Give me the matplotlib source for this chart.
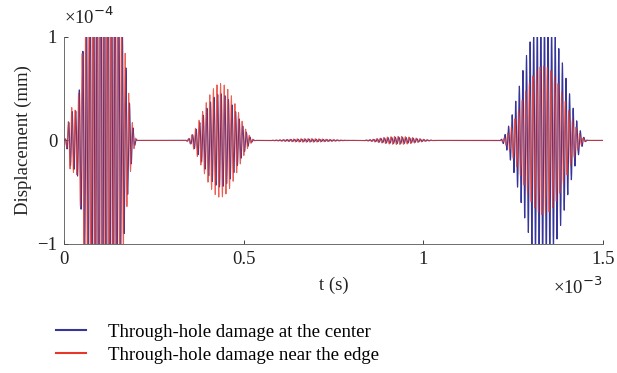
import numpy as np
import matplotlib.pyplot as plt

plt.rcParams['font.family'] = 'Liberation Serif'

# wave packets: centre (ms), width (ms), amplitude (x1e-4)
centres = [0.02, 0.11, 0.435, 0.68, 0.93, 1.335]
widths = [0.04, 0.19, 0.20, 0.26, 0.22, 0.25]
amp_center = [0.25, 2.6, 0.45, 0.012, 0.03, 1.2]
amp_edge = [0.30, 2.8, 0.55, 0.018, 0.04, 0.72]
phase_center = [0.0, 0.3, 0.0, 0.5, 0.2, 0.0]
phase_edge = [0.8, 1.6, 1.2, 2.0, 1.5, 1.3]
carrier_khz = 100.0

labels = ['Through-hole damage at the center', 'Through-hole damage near the edge']
colors = ['#35359a', '#e8372a']

t = np.linspace(0, 1.5, 8000)


def burst(amps, phases):
    y = np.zeros_like(t)
    for c, w, a, p in zip(centres, widths, amps, phases):
        u = (t - (c - w / 2)) / w
        win = np.where((u >= 0) & (u <= 1), np.sin(np.pi * np.clip(u, 0, 1)) ** 2, 0)
        y += a * win * np.sin(2 * np.pi * carrier_khz * (t - c) + p)
    return y


y_center = burst(amp_center, phase_center)
y_edge = burst(amp_edge, phase_edge)

fig = plt.figure(figsize=(6.17, 3.73), dpi=100)
ax = fig.add_axes([0.104, 0.346, 0.873, 0.555])

ax.plot(t, y_center, color=colors[0], lw=0.8, label=labels[0])
ax.plot(t, y_edge, color=colors[1], lw=0.7, alpha=0.8, label=labels[1])

ax.set_xlim(0, 1.5)
ax.set_ylim(-1, 1)
ax.set_xticks([0, 0.5, 1, 1.5])
ax.set_xticklabels(['0', '0.5', '1', '1.5'])
ax.set_yticks([-1, 0, 1])
ax.set_yticklabels(['\u22121', '0', '1'])
ax.tick_params(direction='in', length=3, labelsize=13.5, width=0.6, colors='#222222', pad=5)
for s in ['top', 'right']:
    ax.spines[s].set_visible(False)
for s in ['left', 'bottom']:
    ax.spines[s].set_linewidth(0.6)
    ax.spines[s].set_color('#555555')

ax.set_xlabel('t (s)', fontsize=13.5, labelpad=6, color='#222222')
ax.set_ylabel('Displacement (mm)', fontsize=13.5, labelpad=4, color='#222222')
fig.text(0.104, 0.925, '\u00d710$^{-4}$', fontsize=13.5, ha='left', va='bottom', color='#222222')
fig.text(0.977, 0.2, '\u00d710$^{-3}$', fontsize=13.5, ha='right', va='bottom', color='#222222')

h = [plt.Line2D([], [], color=c, lw=1.5) for c in colors]
fig.legend(h, labels, loc='lower left', bbox_to_anchor=(0.063, -0.02), frameon=False,
           fontsize=13.5, handlelength=1.6, handletextpad=1.2, labelspacing=0.3)

fig.savefig('out.png', dpi=100)
